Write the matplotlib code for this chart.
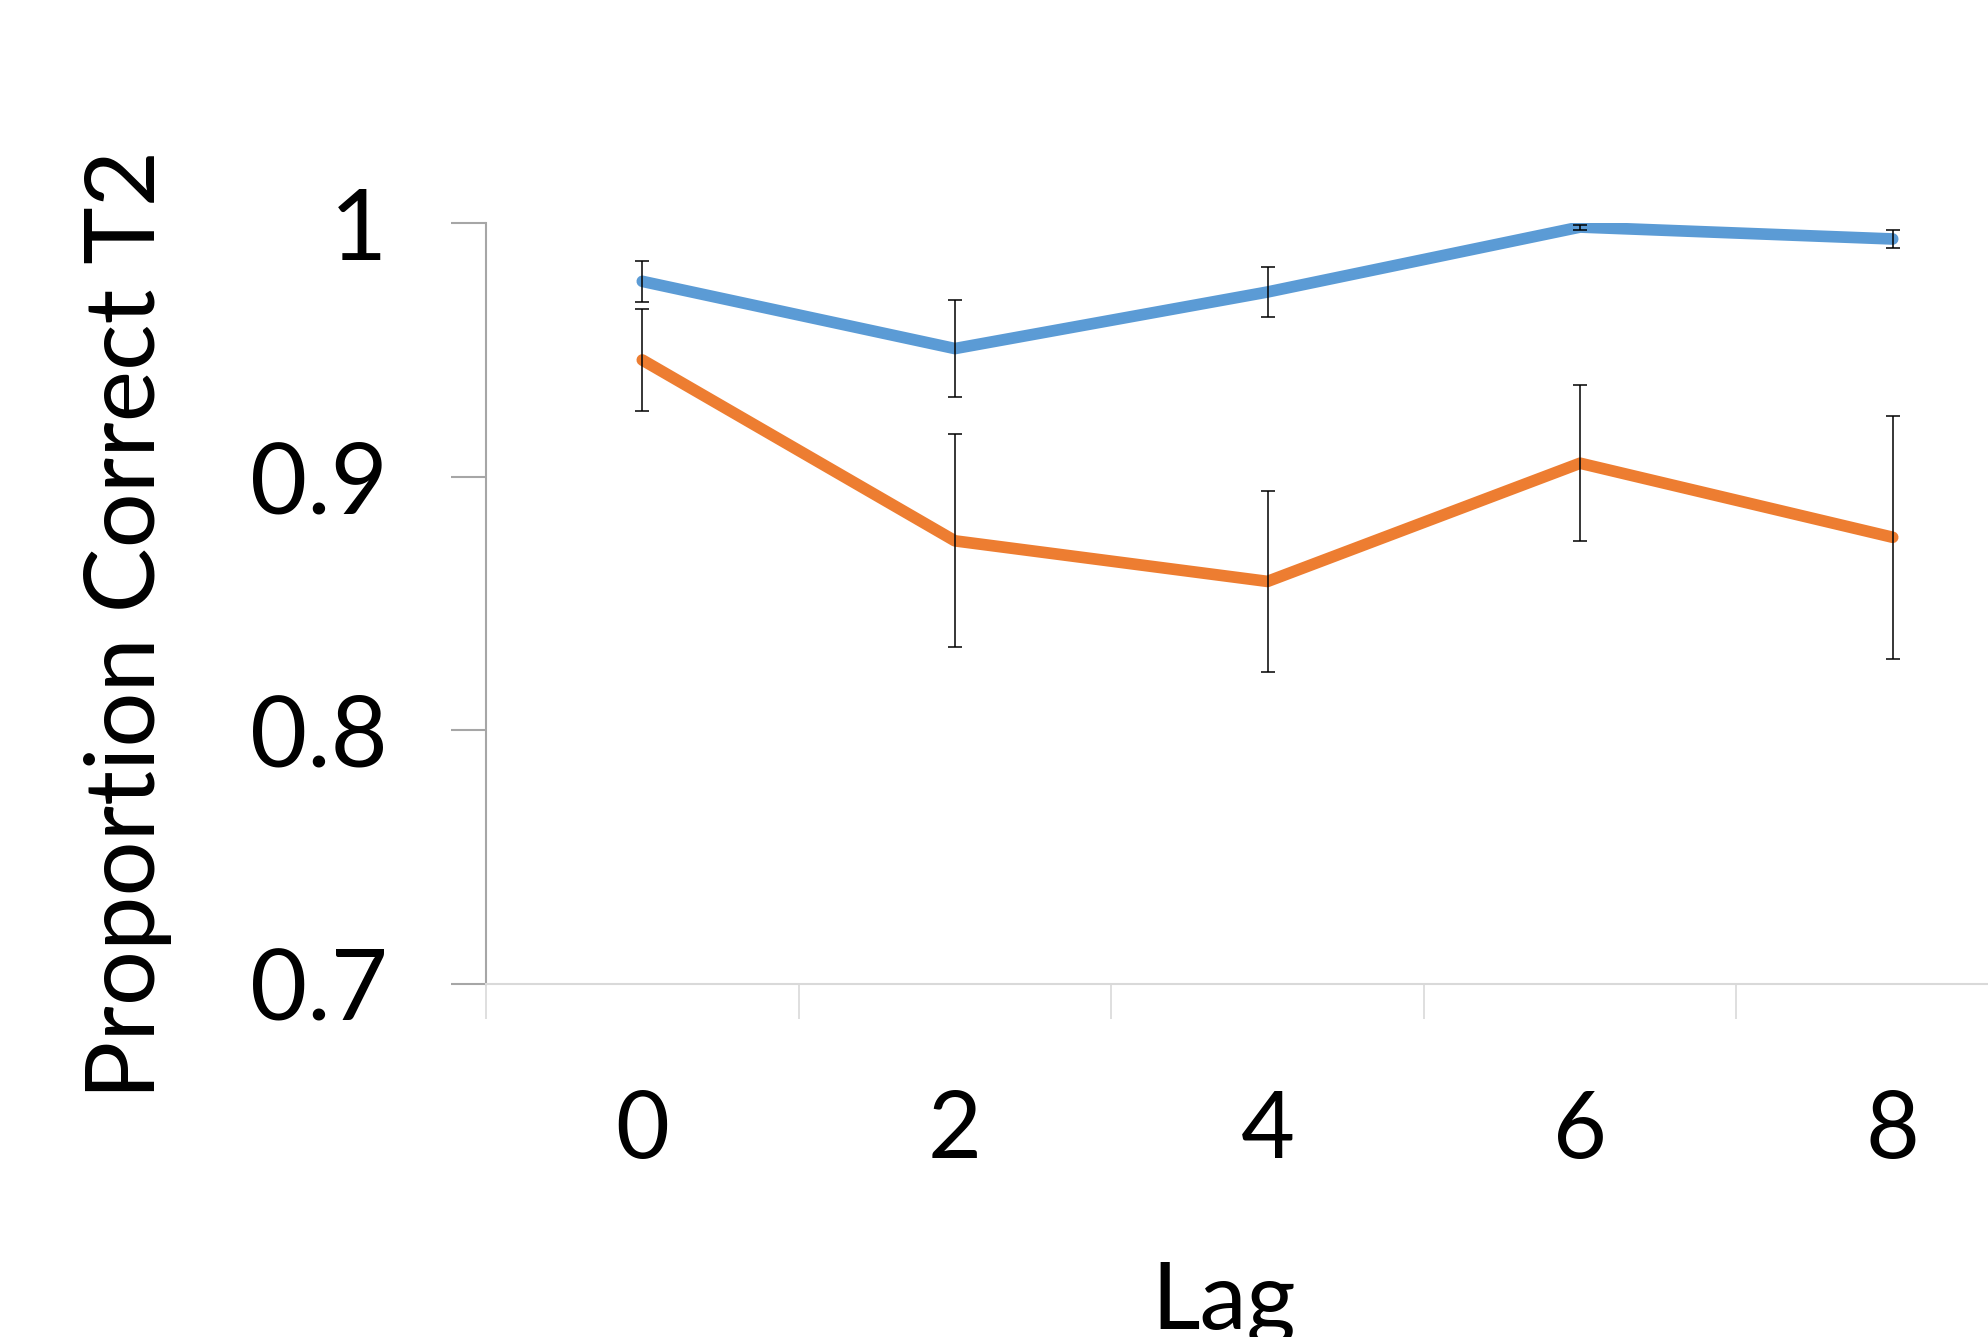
import matplotlib.pyplot as plt
import numpy as np

plt.rcParams['font.family'] = ['Lato', 'DejaVu Sans']

# data
lags = ['0', '2', '4', '6', '8']
blue_mean = [0.977, 0.9505, 0.9728, 0.9984, 0.9937]
blue_err = [0.008, 0.019, 0.0097, 0.001, 0.0037]
orange_mean = [0.946, 0.8747, 0.8587, 0.9053, 0.8761]
orange_err = [0.020, 0.042, 0.0357, 0.0307, 0.0478]
y_ticks = [0.7, 0.8, 0.9, 1.0]
y_ticklabels = ['0.7', '0.8', '0.9', '1']

W, H = 1988, 1337
fig = plt.figure(figsize=(W / 100, H / 100), dpi=100)
# axes runs past the right edge of the figure, as in the reference
ax = fig.add_axes([486 / W, 1 - 984 / H, (2049 - 486) / W, (984 - 223) / H])

x = np.arange(len(lags))
ax.plot(x, blue_mean, color='#5B9BD5', lw=8.4, solid_capstyle='round', solid_joinstyle='round', zorder=3)
ax.plot(x, orange_mean, color='#ED7D31', lw=8.4, solid_capstyle='round', solid_joinstyle='round', zorder=3)
ax.errorbar(x, blue_mean, yerr=blue_err, fmt='none', ecolor='black', elinewidth=1.1, capsize=5, capthick=1.1, zorder=4)
ax.errorbar(x, orange_mean, yerr=orange_err, fmt='none', ecolor='black', elinewidth=1.1, capsize=5, capthick=1.1, zorder=4)

ax.set_xlim(-0.5, len(lags) - 0.5)
ax.set_ylim(0.7, 1.0)

for s in ['top', 'right']:
    ax.spines[s].set_visible(False)
ax.spines['left'].set_color('#a6a6a6')
ax.spines['left'].set_linewidth(1.5)
ax.spines['bottom'].set_color('#d9d9d9')
ax.spines['bottom'].set_linewidth(1.5)

ax.set_yticks(y_ticks)
ax.set_yticklabels(y_ticklabels, fontsize=71)
ax.tick_params(axis='y', direction='out', length=25, width=1.5, color='#a6a6a6', pad=46)

# category boundaries get the tick marks, labels sit at the centres
ax.set_xticks(np.arange(-0.5, len(lags), 1.0))
ax.set_xticklabels([])
ax.tick_params(axis='x', which='major', direction='out', length=25, width=1.2, color='#d9d9d9')
ax.set_xticks(x, minor=True)
ax.set_xticklabels(lags, minor=True, fontsize=67)
ax.tick_params(axis='x', which='minor', length=0, pad=76)

fig.text(128 / W, 1 - 624 / H, 'Proportion Correct T2', rotation=90, fontsize=70,
         ha='center', va='center')
fig.text(1224 / W, 1 - 1262 / H, 'Lag', fontsize=68, ha='center', va='top')

fig.savefig('out.png', dpi=100)
